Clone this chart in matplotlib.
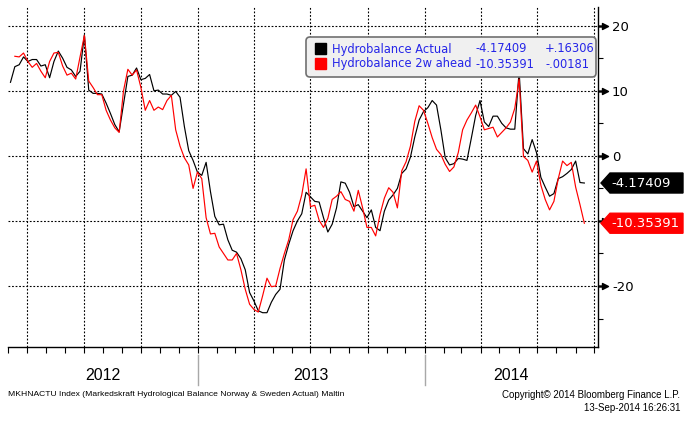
import numpy as np
import pandas as pd
import matplotlib
matplotlib.use('Agg')
import matplotlib.pyplot as plt
import matplotlib.dates as mdates
import matplotlib.transforms as mtransforms
from matplotlib.patches import Polygon, FancyBboxPatch, Rectangle
from matplotlib.path import Path
from matplotlib.markers import MarkerStyle

# ---------------- data ----------------
start_date = '2012-03-05'
n_weeks = 133
dates = pd.date_range(start_date, periods=n_weeks, freq='7D')

actual = [11.3, 13.7, 14.0, 15.2, 14.5, 14.8, 14.8, 13.8, 14.0, 12.0,
          14.5, 16.1, 15.0, 13.6, 13.2, 12.2, 13.0, 18.6, 10.1, 9.6,
          9.6, 9.5, 8.1, 6.5, 4.8, 3.7, 8.0, 12.2, 12.4, 13.5,
          11.7, 11.9, 12.5, 10.0, 10.1, 9.5, 9.5, 9.3, 9.9, 9.0,
          4.5, 0.8, -0.7, -2.5, -3.0, -1.0, -5.5, -9.3, -10.6, -10.5,
          -12.9, -14.5, -14.8, -15.8, -17.5, -21.0, -22.3, -23.8, -24.1, -24.1,
          -22.5, -21.3, -20.5, -16.0, -13.6, -11.5, -10.0, -8.9, -5.6, -6.3,
          -7.0, -7.1, -9.5, -11.7, -10.5, -8.0, -4.0, -4.2, -5.6, -7.8,
          -7.5, -8.5, -9.5, -8.3, -11.0, -11.5, -8.5, -6.8, -6.0, -5.0,
          -2.7, -2.0, -0.2, 2.9, 5.5, 6.8, 7.4, 8.5, 7.8, 4.0,
          -0.3, -1.4, -1.2, -0.4, -0.5, -0.7, 2.7, 6.2, 8.5, 5.2,
          4.5, 6.1, 6.1, 5.0, 4.3, 4.1, 4.1, 13.0, 1.1, 0.3,
          2.5, 0.5, -3.3, -4.8, -6.2, -5.8, -3.5, -3.2, -2.7, -2.1,
          -0.8, -4.1, -4.17409]

ahead = [np.nan, 15.3, 15.2, 15.8, 14.5, 13.6, 14.2, 13.0, 12.0, 14.5,
         15.8, 15.9, 13.8, 12.4, 12.7, 11.8, 15.2, 18.5, 11.5, 10.5,
         9.4, 9.4, 7.0, 5.5, 4.3, 3.6, 10.0, 13.3, 12.4, 13.2,
         10.5, 7.0, 8.5, 7.0, 7.5, 7.1, 8.5, 9.3, 4.0, 1.5,
         -0.3, -1.4, -5.0, -2.5, -3.5, -9.5, -12.0, -11.9, -14.0, -15.0,
         -16.0, -16.0, -15.0, -17.5, -20.5, -22.8, -23.6, -24.0, -21.5, -18.8,
         -20.1, -20.0, -17.3, -15.0, -12.9, -9.8, -8.5, -6.0, -2.0, -7.8,
         -7.6, -9.9, -11.0, -9.6, -6.7, -6.2, -5.5, -6.7, -7.0, -8.5,
         -5.3, -8.0, -11.0, -11.0, -12.3, -9.0, -6.5, -4.9, -5.6, -8.0,
         -2.3, -0.9, 1.5, 5.3, 7.7, 7.0, 5.0, 2.8, 1.0, 0.2,
         -1.3, -2.4, -1.7, 0.5, 4.0, 5.5, 6.6, 7.8, 6.0, 4.0,
         4.2, 4.4, 2.9, 3.6, 4.3, 5.2, 7.3, 11.8, -0.1, -0.7,
         -2.5, -0.8, -4.5, -6.7, -8.3, -7.0, -3.5, -0.8, -1.5, -1.0,
         -4.8, -7.5, -10.35391]

series_names = ['Hydrobalance Actual', 'Hydrobalance 2w ahead']
series_colors = ['#000000', '#ff0000']
last_labels = ['-4.17409', '-10.35391']
change_labels = ['+.16306', '-.00181']
year_labels = ['2012', '2013', '2014']
y_major = [20, 10, 0, -10, -20]
y_tick_labels = ['20', '10', '0', '', '-20']   # -10 is hidden under the red value tag
y_minor = [15, 5, -5, -15, -25]
footer_left = 'MKHNACTU Index (Markedskraft Hydrological Balance Norway & Sweden Actual) Maltin'
footer_right1 = 'Copyright\u00a9 2014 Bloomberg Finance L.P.'
footer_right2 = '13-Sep-2014 16:26:31'

narrow_kw = dict(family=['Liberation Sans', 'DejaVu Sans'])
foot_fs_left, foot_fs_right, year_fs = 6.1, 7.0, 11.5

# ---------------- layout ----------------
W, H = 688, 423
fig = plt.figure(figsize=(W / 100, H / 100), dpi=100)
AX_L, AX_R, AX_T, AX_B = 8, 598, 7, 347
ax = fig.add_axes([AX_L / W, 1 - AX_B / H, (AX_R - AX_L) / W, (AX_B - AX_T) / H])
px = mtransforms.Affine2D().scale(1 / W, -1 / H).translate(0, 1) + fig.transFigure

YLO, YHI = -29.37, 22.87
ax.set_xlim(pd.Timestamp('2012-03-01'), pd.Timestamp('2014-10-07'))
ax.set_ylim(YLO, YHI)

ax.plot(dates, actual, color=series_colors[0], lw=0.85, zorder=3)
ax.plot(dates, ahead, color=series_colors[1], lw=0.85, zorder=4)

for s in ['left', 'top']:
    ax.spines[s].set_visible(False)
for s in ['right', 'bottom']:
    ax.spines[s].set_color('black')
    ax.spines[s].set_linewidth(1.0)

# x axis
ax.xaxis.set_major_locator(mdates.MonthLocator(bymonth=[1, 4, 7, 10]))
ax.xaxis.set_minor_locator(mdates.MonthLocator())
ax.xaxis.set_major_formatter(plt.NullFormatter())
ax.tick_params(axis='x', which='both', direction='out', length=4, width=0.8, color='black')
ax.grid(axis='x', which='major', color='black', linestyle=(0, (1.6, 1.6)), lw=0.8)

# y axis (right)
ax.yaxis.tick_right()
ax.set_yticks(y_major)
ax.set_yticklabels(y_tick_labels)
ax.set_yticks(y_minor, minor=True)
ax.tick_params(axis='y', which='major', length=0, pad=10, labelsize=9.5)
ax.tick_params(axis='y', which='minor', direction='out', length=3.5, width=0.8)
ax.grid(axis='y', which='major', color='black', linestyle=(0, (1.6, 1.6)), lw=0.8)

arrow_path = Path([(0, -0.5), (4, -0.5), (4, -3), (10, 0), (4, 3), (4, 0.5), (0, 0.5), (0, -0.5)],
                  [Path.MOVETO] + [Path.LINETO] * 6 + [Path.CLOSEPOLY])
ax.plot([1.0] * len(y_major), y_major, linestyle='none', marker=MarkerStyle(arrow_path),
        markersize=14.4, color='black', transform=ax.get_yaxis_transform(), clip_on=False, zorder=5)

# last value tags on right
ytr = ax.get_yaxis_transform()
axw = AX_R - AX_L
def fx(p):
    return (p - AX_L) / axw
half = 10 / ((AX_B - AX_T) / (YHI - YLO))
for vals, col, lab in zip([actual, ahead], series_colors, last_labels):
    v = vals[-1]
    poly = Polygon([(fx(601), v), (fx(610), v + half), (fx(683), v + half),
                    (fx(683), v - half), (fx(610), v - half)], closed=True,
                   transform=ytr, facecolor=col, edgecolor=col, clip_on=False, zorder=10)
    ax.add_patch(poly)
    ax.text(fx(611), v, lab, transform=ytr, color='white', fontsize=9.5,
            ha='left', va='center', clip_on=False, zorder=11)

# legend box
leg = FancyBboxPatch((306, 37), 290, 40, boxstyle='round,pad=0,rounding_size=4',
                     transform=px, facecolor='#f0f0f0', edgecolor='#707070', lw=1.2, zorder=20)
fig.add_artist(leg)
rows_y = [49, 64]
for yy, col, name, last, ch in zip(rows_y, series_colors, series_names, last_labels, change_labels):
    fig.add_artist(Rectangle((315, yy - 5.5), 11, 11, transform=px, facecolor=col,
                             edgecolor=col, zorder=21))
    fig.text(332, yy, name, transform=px, color='#2525e8', fontsize=8.3, ha='left', va='center', zorder=22)
    fig.text(476, yy, last, transform=px, color='#2525e8', fontsize=8.3, ha='left', va='center', zorder=22)
    fig.text(545, yy, ch, transform=px, color='#2525e8', fontsize=8.3, ha='left', va='center', zorder=22)

# year separators & labels
xlo, xhi = ax.get_xlim()
bt = mtransforms.blended_transform_factory(ax.transData, px)
for yl in year_labels[1:]:
    xd = mdates.date2num(pd.Timestamp(f'{yl}-01-01'))
    ax.plot([xd, xd], [355, 385], transform=bt, color='#a8a8a8', lw=1.0, clip_on=False)
for yl in year_labels:
    a = max(mdates.date2num(pd.Timestamp(f'{yl}-01-01')), xlo)
    b = min(mdates.date2num(pd.Timestamp(f'{int(yl) + 1}-01-01')), xhi)
    ax.text((a + b) / 2, 376, yl, transform=bt, ha='center', va='center', fontsize=year_fs,
            clip_on=False, **narrow_kw)

fig.text(8, 395, footer_left, transform=px, ha='left', va='center', fontsize=foot_fs_left, **narrow_kw)
fig.text(680, 395, footer_right1, transform=px, ha='right', va='center', fontsize=foot_fs_right, **narrow_kw)
fig.text(680, 408, footer_right2, transform=px, ha='right', va='center', fontsize=foot_fs_right, **narrow_kw)

fig.savefig('out.png', dpi=100, facecolor='white')
